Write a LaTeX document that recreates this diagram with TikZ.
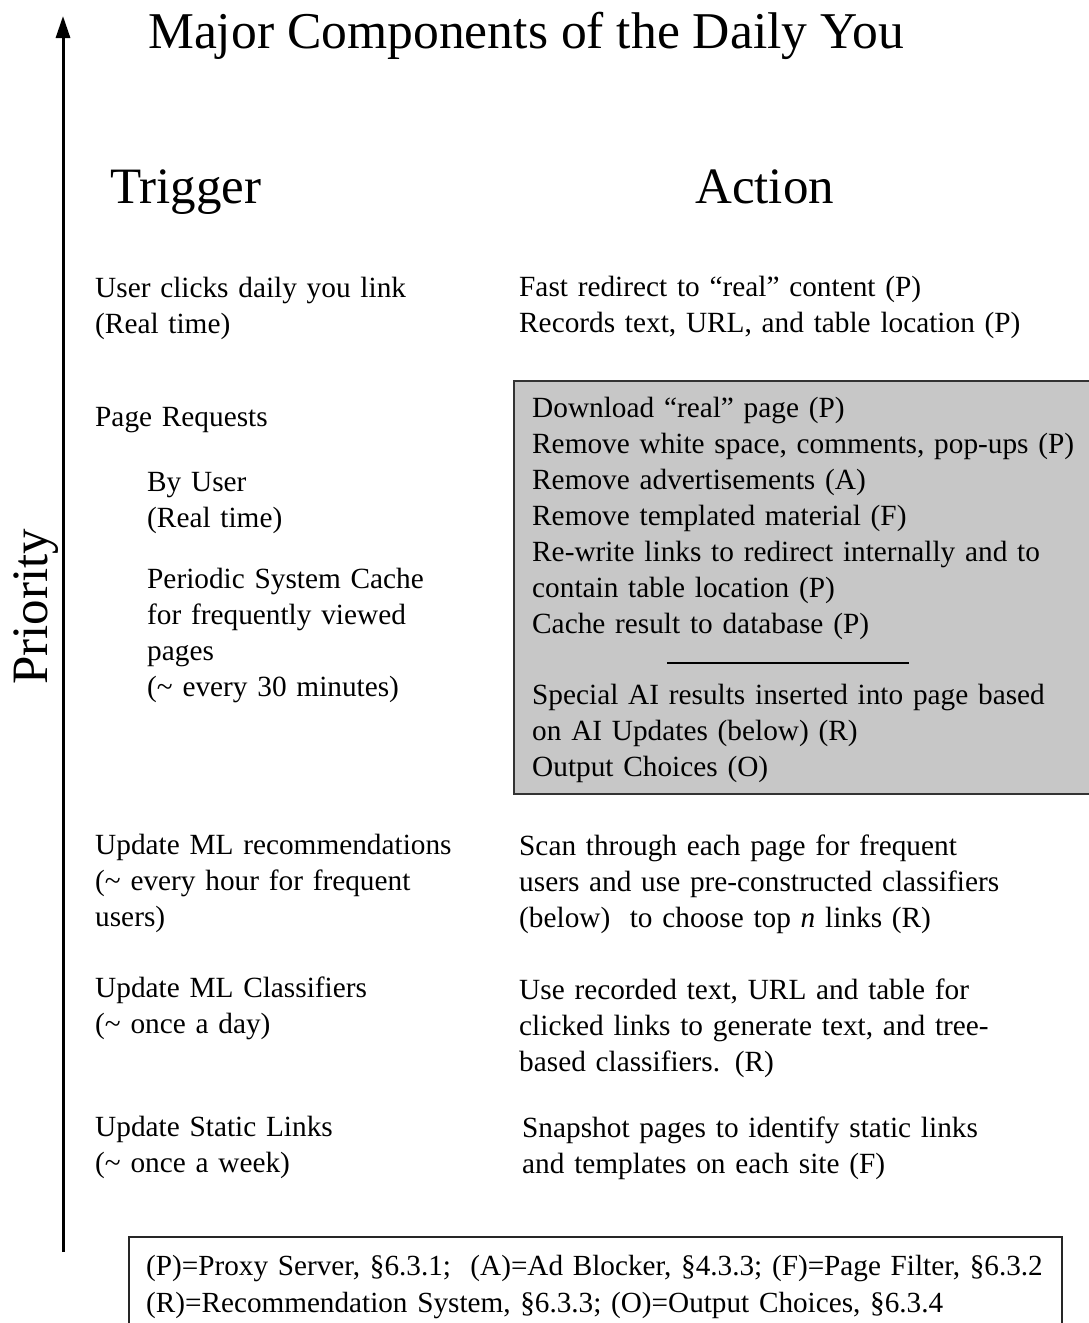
\documentclass[tikz,border=0pt]{standalone}
\usepackage{fontspec}
\setmainfont{Liberation Serif}
\usetikzlibrary{arrows.meta}
\tikzset{
  head/.style={anchor=base west, inner sep=0pt, font=\fontsize{51.6}{60}\selectfont},
  txt/.style={anchor=base west, inner sep=0pt, text width=#1, align=left,
    font=\fontsize{29.3}{36}\selectfont},
  txt/.default=560pt,
  graybox/.style={draw=black!80, line width=1.5pt, fill=black!22},
  legbox/.style={draw=black!85, line width=1.5pt, fill=white},
}
\begin{document}
\begin{tikzpicture}[x=1pt,y=-1pt]
\useasboundingbox (0,0) rectangle (1088,1323);
% priority axis
\coordinate (axbot) at (63,1252);
\coordinate (axtop) at (63,16);
\draw[line width=3pt,-{Triangle[width=14pt,length=22pt]}] (axbot) -- (axtop);
\node[head, font=\fontsize{51}{60}\selectfont, rotate=90] (prio) at (47,685) {Priority};
% headings
\node[head] (title) at (148,48) {Major Components of the Daily You};
\node[head, font=\fontsize{51}{60}\selectfont] (trig) at (110,203) {Trigger};
\node[head, font=\fontsize{51}{60}\selectfont] (act) at (695,203) {Action};
% gray box
\node[graybox, anchor=north west, minimum width=590pt, minimum height=413pt, inner sep=0pt] (gbox) at (513,380) {};
\coordinate (sepL) at (667,663);
\coordinate (sepR) at (909,663);
\draw[line width=1.5pt] (sepL) -- (sepR);
% legend box
\node[legbox, anchor=north west, minimum width=933pt, minimum height=100pt, inner sep=0pt] (lbox) at (128,1236) {};
% left column
\node[txt=420pt] (t1) at (95,297) {User clicks daily you link\\(Real time)};
\node[txt=420pt] (t2) at (95,426) {Page Requests};
\node[txt=360pt] (t3) at (147,491) {By User\\(Real time)};
\node[txt=360pt] (t4) at (147,588) {Periodic System Cache\\for frequently viewed\\pages\\(\textasciitilde{} every 30 minutes)};
\node[txt=420pt] (t5) at (95,854) {Update ML recommendations\\(\textasciitilde{} every hour for frequent\\users)};
\node[txt=420pt] (t6) at (95,997) {Update ML Classifiers\\(\textasciitilde{} once a day)};
\node[txt=420pt] (t7) at (95,1136) {Update Static Links\\(\textasciitilde{} once a week)};
% right column
\node[txt] (a1) at (519,296) {Fast redirect to “real” content (P)\\Records text, URL, and table location (P)};
\node[txt] (a2) at (532,417) {Download “real” page (P)\\Remove white space, comments, pop-ups (P)\\Remove advertisements (A)\\Remove templated material (F)\\Re-write links to redirect internally and to\\contain table location (P)\\Cache result to database (P)};
\node[txt] (a3) at (532,704) {Special AI results inserted into page based\\on AI Updates (below) (R)\\Output Choices (O)};
\node[txt] (a4) at (519,855) {Scan through each page for frequent\\users and use pre-constructed classifiers\\(below)\ \ to choose top \textit{n} links (R)};
\node[txt] (a5) at (519,999) {Use recorded text, URL and table for\\clicked links to generate text, and tree-\\based classifiers. (R)};
\node[txt] (a6) at (522,1137) {Snapshot pages to identify static links\\and templates on each site (F)};
% legend text
\node[anchor=base west, inner sep=0pt, text width=920pt, align=left, font=\fontsize{29.2}{37}\selectfont] (leg) at (146,1275)
  {(P)=Proxy Server, §6.3.1;\ \ (A)=Ad Blocker, §4.3.3; (F)=Page Filter, §6.3.2\\(R)=Recommendation System, §6.3.3; (O)=Output Choices, §6.3.4};
\end{tikzpicture}
\end{document}
